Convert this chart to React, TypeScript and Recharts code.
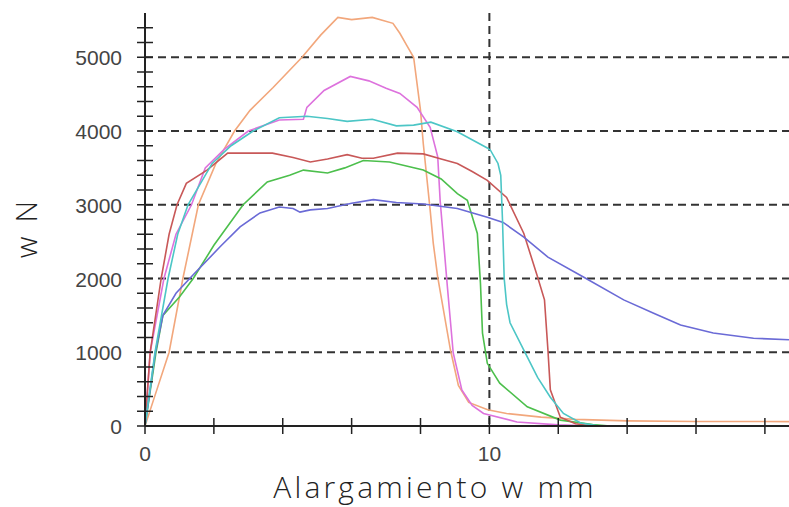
import { CartesianGrid, Line, LineChart, XAxis, YAxis } from "recharts";

type Pt = { x: number; y: number };

// curves (x in mm, y in N)
const orange: Pt[] = [
  { x: 0, y: 0 }, { x: 0.35, y: 500 }, { x: 0.7, y: 1000 }, { x: 1.1, y: 2000 },
  { x: 1.55, y: 3000 }, { x: 2.05, y: 3550 }, { x: 2.6, y: 4000 }, { x: 3.05, y: 4280 },
  { x: 3.72, y: 4590 }, { x: 4.56, y: 5000 }, { x: 5.1, y: 5300 }, { x: 5.6, y: 5540 },
  { x: 6.0, y: 5510 }, { x: 6.6, y: 5540 }, { x: 7.2, y: 5460 }, { x: 7.4, y: 5325 },
  { x: 7.6, y: 5160 }, { x: 7.8, y: 5000 }, { x: 8.0, y: 4280 }, { x: 8.08, y: 3830 },
  { x: 8.28, y: 2930 }, { x: 8.37, y: 2480 }, { x: 8.5, y: 2020 }, { x: 8.87, y: 1030 },
  { x: 9.1, y: 550 }, { x: 9.4, y: 320 }, { x: 9.95, y: 220 }, { x: 10.5, y: 170 },
  { x: 11.5, y: 120 }, { x: 12.5, y: 90 }, { x: 14, y: 70 }, { x: 16, y: 60 }, { x: 18.7, y: 60 },
];

const magenta: Pt[] = [
  { x: 0, y: 0 }, { x: 0.15, y: 1000 }, { x: 0.55, y: 2000 }, { x: 0.9, y: 2600 },
  { x: 1.35, y: 3000 }, { x: 1.75, y: 3500 }, { x: 2.3, y: 3750 }, { x: 3.0, y: 4000 },
  { x: 3.9, y: 4150 }, { x: 4.6, y: 4160 }, { x: 4.7, y: 4320 }, { x: 5.2, y: 4550 },
  { x: 5.96, y: 4740 }, { x: 6.5, y: 4680 }, { x: 7.0, y: 4580 }, { x: 7.4, y: 4510 },
  { x: 7.9, y: 4320 }, { x: 8.28, y: 4050 }, { x: 8.5, y: 3650 }, { x: 8.57, y: 3060 },
  { x: 8.78, y: 1890 }, { x: 8.95, y: 990 }, { x: 9.2, y: 490 }, { x: 9.5, y: 280 },
  { x: 9.83, y: 170 }, { x: 10.8, y: 55 }, { x: 12, y: 15 }, { x: 13, y: 0 }, { x: 18.7, y: 0 },
];

const green: Pt[] = [
  { x: 0, y: 0 }, { x: 0.32, y: 1000 }, { x: 0.52, y: 1500 }, { x: 1.0, y: 1750 },
  { x: 1.4, y: 2000 }, { x: 2.0, y: 2450 }, { x: 2.85, y: 3000 }, { x: 3.55, y: 3310 },
  { x: 4.2, y: 3400 }, { x: 4.6, y: 3470 }, { x: 5.3, y: 3430 }, { x: 5.8, y: 3500 },
  { x: 6.34, y: 3600 }, { x: 7.1, y: 3580 }, { x: 8.08, y: 3470 }, { x: 8.6, y: 3350 },
  { x: 9.07, y: 3150 }, { x: 9.36, y: 3060 }, { x: 9.65, y: 2610 }, { x: 9.74, y: 1940 },
  { x: 9.8, y: 1260 }, { x: 9.94, y: 850 }, { x: 10.3, y: 580 }, { x: 11.1, y: 260 },
  { x: 12.06, y: 80 }, { x: 13, y: 20 }, { x: 13.5, y: 0 }, { x: 18.7, y: 0 },
];

const red: Pt[] = [
  { x: 0, y: 0 }, { x: 0.15, y: 1000 }, { x: 0.47, y: 2000 }, { x: 0.7, y: 2600 },
  { x: 0.93, y: 3000 }, { x: 1.2, y: 3290 }, { x: 1.8, y: 3470 }, { x: 2.4, y: 3700 },
  { x: 3.0, y: 3700 }, { x: 3.7, y: 3700 }, { x: 4.3, y: 3640 }, { x: 4.8, y: 3580 },
  { x: 5.3, y: 3620 }, { x: 5.87, y: 3680 }, { x: 6.3, y: 3630 }, { x: 6.63, y: 3630 },
  { x: 7.33, y: 3700 }, { x: 8.08, y: 3690 }, { x: 8.6, y: 3620 }, { x: 9.07, y: 3560 },
  { x: 9.5, y: 3450 }, { x: 9.94, y: 3330 }, { x: 10.5, y: 3100 }, { x: 11.0, y: 2610 },
  { x: 11.4, y: 2020 }, { x: 11.6, y: 1710 }, { x: 11.7, y: 1030 }, { x: 11.77, y: 490 },
  { x: 12.06, y: 120 }, { x: 12.5, y: 30 }, { x: 13, y: 0 }, { x: 18.7, y: 0 },
];

const blue: Pt[] = [
  { x: 0, y: 0 }, { x: 0.3, y: 1000 }, { x: 0.52, y: 1500 }, { x: 0.9, y: 1800 },
  { x: 1.4, y: 2050 }, { x: 2.18, y: 2430 }, { x: 2.76, y: 2700 }, { x: 3.34, y: 2890 },
  { x: 3.9, y: 2970 }, { x: 4.3, y: 2950 }, { x: 4.5, y: 2900 }, { x: 4.8, y: 2930 },
  { x: 5.3, y: 2950 }, { x: 6.0, y: 3020 }, { x: 6.63, y: 3070 }, { x: 7.3, y: 3030 },
  { x: 8.08, y: 3010 }, { x: 9.07, y: 2950 }, { x: 9.94, y: 2830 }, { x: 10.4, y: 2760 },
  { x: 11.0, y: 2560 }, { x: 11.7, y: 2290 }, { x: 12.73, y: 2020 }, { x: 13.9, y: 1710 },
  { x: 14.77, y: 1530 }, { x: 15.55, y: 1370 }, { x: 16.5, y: 1260 }, { x: 17.67, y: 1190 },
  { x: 18.7, y: 1170 },
];

const cyan: Pt[] = [
  { x: 0, y: 0 }, { x: 0.29, y: 1000 }, { x: 0.67, y: 2000 }, { x: 0.95, y: 2600 },
  { x: 1.25, y: 3000 }, { x: 1.95, y: 3560 }, { x: 2.5, y: 3800 }, { x: 3.14, y: 4000 },
  { x: 3.9, y: 4180 }, { x: 4.7, y: 4200 }, { x: 5.3, y: 4170 }, { x: 5.87, y: 4130 },
  { x: 6.6, y: 4160 }, { x: 7.3, y: 4070 }, { x: 7.8, y: 4080 }, { x: 8.3, y: 4120 },
  { x: 9.07, y: 3990 }, { x: 9.94, y: 3770 }, { x: 10.03, y: 3740 }, { x: 10.25, y: 3560 },
  { x: 10.33, y: 3400 }, { x: 10.38, y: 2800 }, { x: 10.43, y: 2000 }, { x: 10.5, y: 1650 },
  { x: 10.6, y: 1400 }, { x: 11.0, y: 1030 }, { x: 11.4, y: 660 }, { x: 11.77, y: 390 },
  { x: 12.15, y: 170 }, { x: 12.65, y: 40 }, { x: 13.2, y: 0 }, { x: 18.7, y: 0 },
];

const xTicks = [0, 2, 4, 6, 8, 10, 12, 14, 16, 18];
const xLabels = [0, 10];
const yTicks = [0, 200, 400, 600, 800, 1000, 1200, 1400, 1600, 1800, 2000, 2200, 2400, 2600, 2800, 3000, 3200, 3400, 3600, 3800, 4000, 4200, 4400, 4600, 4800, 5000, 5200, 5400];
const yGrid = [1000, 2000, 3000, 4000, 5000];

const series = [
  { name: "orange", data: orange, color: "#f2a77c" },
  { name: "magenta", data: magenta, color: "#dd72dd" },
  { name: "green", data: green, color: "#4cbf4c" },
  { name: "red", data: red, color: "#c85858" },
  { name: "blue", data: blue, color: "#6a6ad6" },
  { name: "cyan", data: cyan, color: "#4cc6c6" },
];

const tickFont = { fontFamily: "Liberation Sans, Arial, sans-serif", fontSize: 21, fill: "#444" };

const XTick = (props: any) => {
  const { x, y, payload } = props;
  const v = payload.value;
  return (
    <g>
      <line x1={x} x2={x} y1={y - 8} y2={y + 8} stroke="#222" strokeWidth={1.5} />
      {xLabels.includes(v) && (
        <text x={x} y={y + 35} textAnchor="middle" {...tickFont}>
          {v}
        </text>
      )}
    </g>
  );
};

const YTick = (props: any) => {
  const { x, y, payload } = props;
  const v = payload.value;
  return (
    <g>
      <line x1={x - 8} x2={x + 8} y1={y} y2={y} stroke="#222" strokeWidth={1.5} />
      {v % 1000 === 0 && (
        <text x={x - 23} y={y + 8} textAnchor="end" {...tickFont}>
          {v}
        </text>
      )}
    </g>
  );
};

const titleFont = { fontFamily: "Open Sans, sans-serif", fontWeight: 300, fontSize: 30, fill: "#222", letterSpacing: 3.2 };

export default function App() {
  return (
    <div style={{ position: "absolute", left: 0, top: 0, background: "#fff" }}>
      <LineChart width={789} height={507} margin={{ top: 13, right: 0, left: 0, bottom: 0 }}>
        <CartesianGrid
          horizontalValues={yGrid}
          verticalValues={[10]}
          stroke="#333"
          strokeWidth={2}
          strokeDasharray="8 5"
        />
        <XAxis
          type="number"
          dataKey="x"
          domain={[0, 18.7]}
          ticks={xTicks}
          allowDataOverflow
          height={81}
          tickSize={0}
          tickMargin={0}
          tickLine={false}
          tick={<XTick />}
          interval={0}
          axisLine={{ stroke: "#222", strokeWidth: 2 }}
          label={{
            content: () => (
              <text x={435} y={498} textAnchor="middle" {...titleFont}>
                Alargamiento w mm
              </text>
            ),
          }}
        />
        <YAxis
          type="number"
          dataKey="y"
          domain={[0, 5600]}
          ticks={yTicks}
          allowDataOverflow
          width={145}
          tickSize={0}
          tickMargin={0}
          tickLine={false}
          tick={<YTick />}
          interval={0}
          axisLine={{ stroke: "#222", strokeWidth: 2 }}
          label={{
            content: () => (
              <text
                x={25}
                y={228}
                textAnchor="middle"
                dominantBaseline="central"
                transform="rotate(-90, 25, 228)"
                {...titleFont}
              >
                w N
              </text>
            ),
          }}
        />
        {series.map((s) => (
          <Line
            key={s.name}
            data={s.data}
            dataKey="y"
            type="linear"
            stroke={s.color}
            strokeWidth={1.6}
            dot={false}
            activeDot={false}
            isAnimationActive={false}
          />
        ))}
      </LineChart>
    </div>
  );
}
